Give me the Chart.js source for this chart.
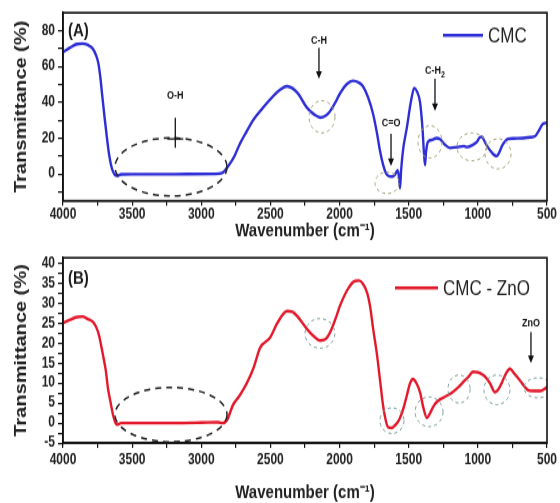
<!DOCTYPE html>
<html>
<head>
<meta charset="utf-8">
<script src="https://cdn.jsdelivr.net/npm/chart.js@4.4.1/dist/chart.umd.min.js"></script>
<style>
  html, body { margin: 0; padding: 0; background: #fff; }
  /* the source figure is stretched vertically: draw flat, show taller via CSS size */
  #wrap { position: relative; width: 560px; height: 503px; }
  #wrap canvas { position: absolute; left: 0; }
  #chartA { top: 0; }
  #chartB { top: 245px; }
</style>
</head>
<body>
<div id="wrap">
  <canvas id="chartA" width="560" height="196" style="width:560px;height:245px"></canvas>
  <canvas id="chartB" width="560" height="206" style="width:560px;height:258px"></canvas>
</div>
<script>
// ---- data ----
const xTicks = [4000, 3750, 3500, 3250, 3000, 2750, 2500, 2250, 2000, 1750, 1500, 1250, 1000, 750, 500];
const xLabels = [4000, 3500, 3000, 2500, 2000, 1500, 1000, 500];

const yTicksA = [-10, 0, 10, 20, 30, 40, 50, 60, 70, 80];
const yLabelsA = [0, 20, 40, 60, 80];
const yTicksB = [-5, -2.5, 0, 2.5, 5, 7.5, 10, 12.5, 15, 17.5, 20, 22.5, 25, 27.5, 30, 32.5, 35, 37.5, 40];
const yLabelsB = [-5, 0, 5, 10, 15, 20, 25, 30, 35, 40];

// CMC
const wnA = [4000, 3950, 3900, 3860, 3820, 3785, 3760, 3745, 3730, 3718, 3700, 3682, 3665, 3646, 3625,
  3610, 3580, 3500, 3300, 3100, 2900, 2850, 2800, 2760, 2720, 2670, 2626, 2554, 2480, 2430,
  2380, 2340, 2300, 2236, 2180, 2140, 2100, 2069, 2030, 1997, 1950, 1903, 1860, 1831, 1795,
  1758, 1730, 1708, 1685, 1665, 1650, 1620, 1600, 1580, 1570, 1563, 1555, 1540, 1513, 1485,
  1460, 1440, 1418, 1400, 1390, 1382, 1375, 1360, 1330, 1300, 1274, 1240, 1202, 1150, 1100,
  1079, 1040, 1006, 985, 970, 950, 934, 900, 880, 862, 845, 825, 800, 782, 740,
  673, 620, 587, 560, 529, 500];
const tA = [68, 70.5, 72.5, 72.8, 72, 70, 66, 62, 54, 45, 32, 20, 10, 3, -0.5,
  -1, -0.3, -0.2, -0.2, -0.1, 0, 0.5, 5, 10, 17, 24, 30, 37, 43.5, 47,
  49, 47.8, 44.8, 37, 33, 31.5, 32.5, 35, 40, 45, 50, 52, 51, 49, 43,
  33.6, 23, 13, 5, 0.5, -1, -1.5, -0.5, 2, -2, -8, 2, 14, 26, 40,
  48, 46, 40, 25, 12, 5, 12, 18, 19, 20, 19.5, 16.5, 14.5, 15, 15.5,
  15, 16, 18, 20.5, 20.7, 18, 15.7, 12, 10.5, 10, 12, 15.7, 18.5, 19.5, 19.8,
  20, 20.5, 21, 24, 28, 28.5];

// CMC - ZnO
const wnB = [4000, 3950, 3900, 3860, 3820, 3783, 3760, 3740, 3711, 3690, 3675, 3655, 3638, 3620, 3605,
  3580, 3400, 3200, 3000, 2880, 2843, 2810, 2771, 2720, 2670, 2620, 2575, 2503, 2450, 2380,
  2340, 2308, 2236, 2180, 2140, 2100, 2069, 2030, 1997, 1940, 1889, 1860, 1831, 1800, 1780,
  1755, 1729, 1705, 1686, 1665, 1650, 1621, 1600, 1580, 1563, 1540, 1513, 1490, 1469, 1445,
  1418, 1395, 1368, 1345, 1324, 1290, 1252, 1215, 1180, 1140, 1107, 1070, 1035, 1000, 962,
  940, 913, 876, 850, 825, 795, 768, 740, 695, 660, 637, 600, 550, 520, 500];
const tB = [25, 25.8, 26.5, 26.6, 26, 25.3, 24, 22, 17, 13, 8.7, 5, 2, 0, -0.4,
  0, 0, 0, 0.1, 0.2, 0, 1, 4.5, 7, 10, 14, 18.8, 21.3, 25, 28,
  27.8, 26.8, 23.5, 21.5, 20.6, 21, 22.6, 26, 29.3, 33.5, 35.5, 35.6, 34.8, 32.5, 29.3,
  23, 17, 10, 4.5, 0.5, -1, -1.2, -0.6, 0.2, 1.3, 3.5, 7, 10, 11, 10,
  7.7, 4, 1.3, 2.5, 4, 5.5, 6.3, 7, 7.8, 9, 10.2, 11.5, 12.8, 12.7, 12,
  11.3, 10, 7.7, 8.5, 10.2, 12.5, 13.6, 12.5, 10.6, 9, 8.2, 8, 8, 8.5, 9];

const FONT = '"Liberation Sans", Arial, sans-serif';

function arrowDown(ctx, x, y1, y2) {
  ctx.beginPath();
  ctx.moveTo(x, y1);
  ctx.lineTo(x, y2 - 5);
  ctx.stroke();
  ctx.beginPath();
  ctx.moveTo(x - 3, y2 - 6);
  ctx.lineTo(x + 3, y2 - 6);
  ctx.lineTo(x, y2);
  ctx.closePath();
  ctx.fill();
}

// rings, arrows, labels, panel tag and legend
const annotate = {
  id: 'annotate',
  afterDatasetsDraw(chart, args, opts) {
    const { ctx, chartArea: ca, scales: { x, y } } = chart;
    ctx.save();

    ctx.fillStyle = '#1a1a1a';
    ctx.font = 'bold 15px ' + FONT;
    ctx.textBaseline = 'middle';
    ctx.textAlign = 'left';
    ctx.fillText(opts.tag, ca.left + 5, ca.top + opts.tagDy);

    ctx.save();
    ctx.beginPath();
    ctx.rect(ca.left, ca.top, ca.right - ca.left, ca.bottom - ca.top);
    ctx.clip();
    opts.rings.forEach(r => {
      const cx = x.getPixelForValue(r.x), cy = y.getPixelForValue(r.y);
      const rx = Math.abs(x.getPixelForValue(r.x + r.rx) - cx);
      const ry = Math.abs(y.getPixelForValue(r.y + r.ry) - cy);
      ctx.beginPath();
      ctx.setLineDash(r.big ? [6, 5] : [3, 3]);
      ctx.strokeStyle = r.big ? '#222' : opts.ringColor;
      ctx.lineWidth = r.big ? 1.5 : 1;
      ctx.ellipse(cx, cy, rx, ry, 0, 0, Math.PI * 2);
      ctx.stroke();
    });
    ctx.restore();
    ctx.setLineDash([]);

    ctx.strokeStyle = '#111';
    ctx.fillStyle = '#111';
    ctx.lineWidth = 1.3;
    opts.marks.forEach(m => {
      const px = x.getPixelForValue(m.x);
      ctx.font = 'bold 9px ' + FONT;
      ctx.textAlign = 'center';
      const ty = y.getPixelForValue(m.ty);
      if (m.sub) {
        const w = ctx.measureText(m.text).width;
        ctx.fillText(m.text, px - 2, ty);
        ctx.font = 'bold 7px ' + FONT;
        ctx.textAlign = 'left';
        ctx.fillText(m.sub, px - 2 + w / 2, ty + 3);
      } else {
        ctx.fillText(m.text, px, ty);
      }
      const a1 = y.getPixelForValue(m.a1), a2 = y.getPixelForValue(m.a2);
      if (m.cross) {
        ctx.beginPath();
        ctx.moveTo(px, a1);
        ctx.lineTo(px, a2);
        ctx.moveTo(px - 8, y.getPixelForValue(m.cross));
        ctx.lineTo(px + 8, y.getPixelForValue(m.cross));
        ctx.stroke();
      } else {
        arrowDown(ctx, px, a1, a2);
      }
    });

    const lg = opts.legend;
    const ds = chart.data.datasets[0];
    const ly = ca.top + lg.dy;
    ctx.strokeStyle = ds.borderColor;
    ctx.lineWidth = 2.6;
    ctx.beginPath();
    ctx.moveTo(ca.right - lg.dx, ly);
    ctx.lineTo(ca.right - lg.dx + lg.len, ly);
    ctx.stroke();
    ctx.fillStyle = '#222';
    ctx.font = '17px ' + FONT;
    ctx.textAlign = 'left';
    ctx.fillText(ds.label, ca.right - lg.dx + lg.len + 5, ly + 1);

    ctx.restore();
  },
  afterDraw(chart) {
    const { ctx, chartArea: ca } = chart;
    ctx.save();
    ctx.strokeStyle = '#111';
    ctx.lineWidth = 1.6;
    ctx.strokeRect(ca.left, ca.top, ca.right - ca.left, ca.bottom - ca.top);
    ctx.restore();
  }
};

function buildChart(id, cfg) {
  return new Chart(document.getElementById(id), {
    type: 'line',
    data: {
      datasets: [{
        label: cfg.label,
        data: cfg.wn.map((w, i) => ({ x: w, y: cfg.t[i] })),
        borderColor: cfg.color,
        borderWidth: 2.4,
        pointRadius: 0,
        cubicInterpolationMode: 'monotone',
        fill: false
      }]
    },
    options: {
      responsive: false,
      animation: false,
      devicePixelRatio: 1,
      layout: { padding: { top: cfg.padTop, right: 13, left: 0, bottom: 0 } },
      plugins: {
        legend: { display: false },
        tooltip: { enabled: false },
        annotate: cfg.notes
      },
      scales: {
        x: {
          type: 'linear',
          reverse: true,
          min: 500,
          max: 4000,
          afterBuildTicks: s => { s.ticks = xTicks.map(v => ({ value: v })); },
          afterFit: s => { s.height = cfg.xHeight; },
          ticks: {
            autoSkip: false, maxRotation: 0, padding: cfg.xTickPad, color: '#222',
            font: { family: FONT, size: 12, weight: 'bold' },
            callback: v => xLabels.includes(v) ? String(v) : ''
          },
          grid: { drawOnChartArea: false, tickLength: 4, color: '#111', lineWidth: 1.2 },
          border: { color: '#111', width: 1.6 },
          title: {
            display: true, text: 'Wavenumber (cm\u207B\u00B9)', color: '#222',
            font: { family: FONT, size: 15, weight: 'bold', lineHeight: 1 },
            padding: { top: 0, bottom: cfg.xTitlePad }
          }
        },
        y: {
          min: cfg.yMin,
          max: cfg.yMax,
          afterBuildTicks: s => { s.ticks = cfg.yTicks.map(v => ({ value: v })); },
          afterFit: s => { s.width = 63; },
          ticks: {
            autoSkip: false, padding: 3, color: '#222',
            font: { family: FONT, size: 12, weight: 'bold' },
            callback: v => cfg.yLabels.includes(v) ? String(v) : ''
          },
          grid: { drawOnChartArea: false, tickLength: 5, color: '#111', lineWidth: 1.2 },
          border: { color: '#111', width: 1.6 },
          title: {
            display: true, text: 'Transmittance (%)', color: '#222',
            font: { family: FONT, size: 16, weight: 'bold', lineHeight: 1 },
            padding: { top: 13.5, bottom: 0 }
          }
        }
      }
    },
    plugins: [annotate]
  });
}

buildChart('chartA', {
  label: 'CMC', wn: wnA, t: tA, color: '#2e2ed6',
  padTop: 10, xHeight: 35.4, xTickPad: 0, xTitlePad: 3.5,
  yMin: -15, yMax: 90, yTicks: yTicksA, yLabels: yLabelsA,
  notes: {
    tag: '(A)', tagDy: 14.5, ringColor: '#a3a37a',
    legend: { dx: 104, dy: 18, len: 40 },
    rings: [
      { x: 3219, y: 3.9, rx: 405, ry: 16.2, big: true },
      { x: 2127, y: 31.9, rx: 94, ry: 9 },
      { x: 1657, y: -5, rx: 87, ry: 6 },
      { x: 1346, y: 17.9, rx: 87, ry: 9 },
      { x: 1043, y: 15.1, rx: 108, ry: 7.8 },
      { x: 854, y: 11.2, rx: 94, ry: 8.4 }
    ],
    marks: [
      { text: 'O-H', x: 3188, ty: 43.6, a1: 31.3, a2: 14.5, cross: 19.6 },
      { text: 'C-H', x: 2149, ty: 74.4, a1: 70.5, a2: 53.1 },
      { text: 'C=O', x: 1628, ty: 28, a1: 22.4, a2: 4.5 },
      { text: 'C-H', sub: '2', x: 1310, ty: 57.6, a1: 53.1, a2: 35.2 }
    ]
  }
});

buildChart('chartB', {
  label: 'CMC - ZnO', wn: wnB, t: tB, color: '#e3192b',
  padTop: 9.4, xHeight: 47.9, xTickPad: 2.5, xTitlePad: 0.5,
  yMin: -5, yMax: 41.3, yTicks: yTicksB, yLabels: yLabelsB,
  notes: {
    tag: '(B)', tagDy: 16.8, ringColor: '#7c9c9c',
    legend: { dx: 152, dy: 24, len: 43 },
    rings: [
      { x: 3219, y: 2.1, rx: 405, ry: 6.8, big: true },
      { x: 2142, y: 22.4, rx: 108, ry: 3.7 },
      { x: 1621, y: 0.6, rx: 87, ry: 3.2 },
      { x: 1353, y: 2.8, rx: 101, ry: 3.7 },
      { x: 1136, y: 8.5, rx: 80, ry: 3.5 },
      { x: 862, y: 8.3, rx: 94, ry: 3.7 },
      { x: 565, y: 8.8, rx: 101, ry: 2.5 }
    ],
    marks: [
      { text: 'ZnO', x: 616, ty: 24.9, a1: 22.7, a2: 15 }
    ]
  }
});
</script>
</body>
</html>
